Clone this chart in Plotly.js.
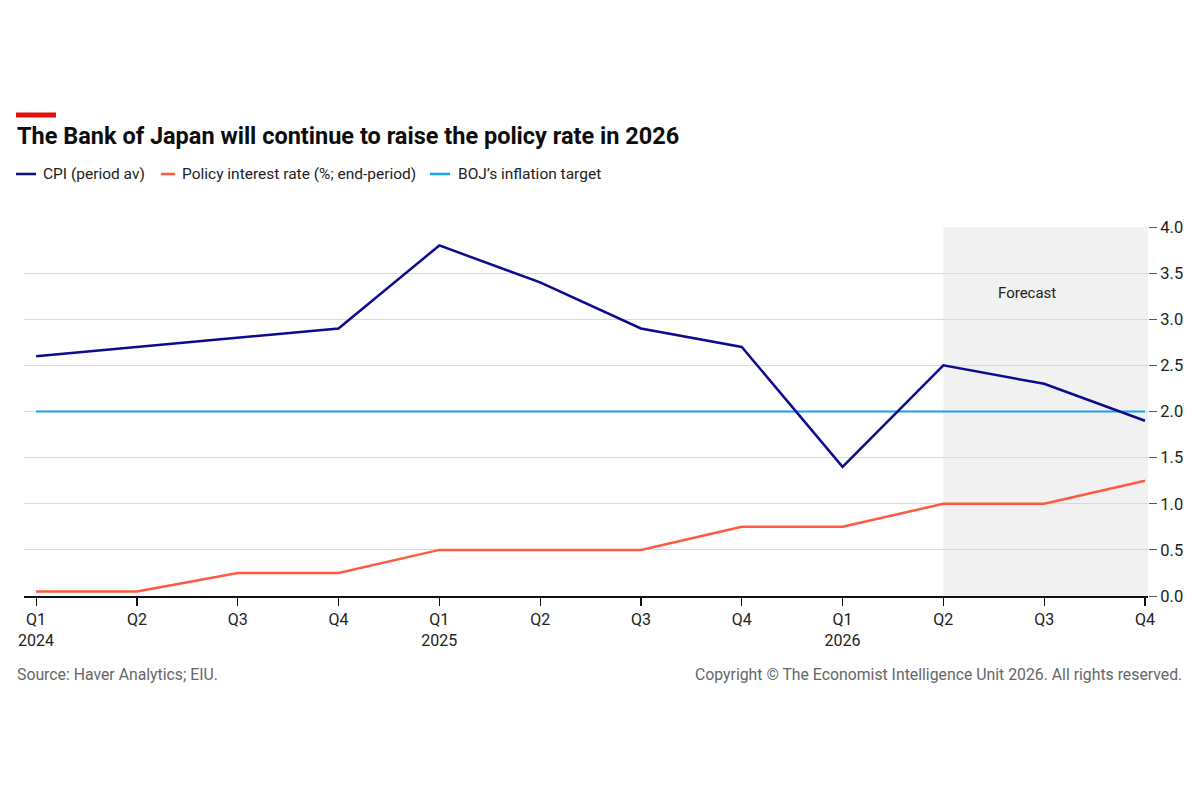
<!DOCTYPE html>
<html>
<head>
<meta charset="utf-8">
<script src="https://cdn.plot.ly/plotly-3.0.1.min.js"></script>
<style>
html,body{margin:0;padding:0;background:#fff;}
#chart{width:1200px;height:800px;}
</style>
</head>
<body>
<div id="chart"></div>
<script>
// Data
const quarters = ["Q1<br>2024","Q2","Q3","Q4","Q1<br>2025","Q2","Q3","Q4","Q1<br>2026","Q2","Q3","Q4"];
const cpi = [2.6, 2.7, 2.8, 2.9, 3.8, 3.4, 2.9, 2.7, 1.4, 2.5, 2.3, 1.9];
const policyRate = [0.05, 0.05, 0.25, 0.25, 0.5, 0.5, 0.5, 0.75, 0.75, 1.0, 1.0, 1.25];
const inflationTarget = [2, 2, 2, 2, 2, 2, 2, 2, 2, 2, 2, 2];
const seriesNames = ["CPI (period av)", "Policy interest rate (%; end-period)", "BOJ\u2019s inflation target"];
const yTicks = [0, 0.5, 1, 1.5, 2, 2.5, 3, 3.5, 4];
const forecastStart = 9;  // index of first forecast quarter
const forecastEnd = 11;

const xIdx = quarters.map((_, i) => i);
const colors = {cpi: "#0c0a8f", rate: "#ff5a3f", target: "#1a9ff0"};
const FONT = "Roboto, 'Liberation Sans', sans-serif";

const traces = [
  {x: xIdx, y: inflationTarget, type: "scatter", mode: "lines", name: seriesNames[2],
   line: {color: colors.target, width: 2.2}, showlegend: false, hoverinfo: "skip"},
  {x: xIdx, y: policyRate, type: "scatter", mode: "lines", name: seriesNames[1],
   line: {color: colors.rate, width: 2.5}, showlegend: false},
  {x: xIdx, y: cpi, type: "scatter", mode: "lines", name: seriesNames[0],
   line: {color: colors.cpi, width: 2.5}, showlegend: false}
];

// Manual legend (positions in pixels converted to paper coords)
const W = 1200, H = 800;
const mL = 24, mR = 52, mT = 227, mB = 204;
const pw = W - mL - mR, ph = H - mT - mB;
const px = x => (x - mL) / pw;
const py = y => (H - mB - y) / ph;

const legendItems = [
  {x0: 16, x1: 36, tx: 41, color: colors.cpi, text: seriesNames[0]},
  {x0: 161, x1: 175, tx: 180, color: colors.rate, text: seriesNames[1]},
  {x0: 430, x1: 450, tx: 456, color: colors.target, text: seriesNames[2]}
];

const shapes = [
  {type: "rect", xref: "x", yref: "y", x0: forecastStart, x1: forecastEnd + 0.03, y0: 0, y1: 4,
   fillcolor: "#f1f1f1", line: {width: 0}, layer: "below"},
  {type: "rect", xref: "paper", yref: "paper", x0: px(16), x1: px(56), y0: py(117.5), y1: py(112.5),
   fillcolor: "#e3120b", line: {width: 0}}
];
const annotations = [
  {xref: "paper", yref: "paper", x: px(15), y: py(136), xanchor: "left", yanchor: "middle",
   text: "<b>The Bank of Japan will continue to raise the policy rate in 2026</b>",
   showarrow: false, font: {family: FONT, size: 23.5, color: "#0d0d0d"}},
  {xref: "x", yref: "y", x: 9.83, y: 3.29, text: "Forecast",
   showarrow: false, font: {family: FONT, size: 15, color: "#222"}},
  {xref: "paper", yref: "paper", x: px(15), y: py(674), xanchor: "left", yanchor: "middle",
   text: "Source: Haver Analytics; EIU.", showarrow: false, font: {family: FONT, size: 15.8, color: "#666"}},
  {xref: "paper", yref: "paper", x: px(1184), y: py(674), xanchor: "right", yanchor: "middle",
   text: "Copyright \u00a9 The Economist Intelligence Unit 2026. All rights reserved.", showarrow: false,
   font: {family: FONT, size: 15.8, color: "#666"}}
];
legendItems.forEach(it => {
  shapes.push({type: "line", xref: "paper", yref: "paper", x0: px(it.x0), x1: px(it.x1),
    y0: py(174), y1: py(174), line: {color: it.color, width: 2.5}});
  annotations.push({xref: "paper", yref: "paper", x: px(it.tx), y: py(174), xanchor: "left", yanchor: "middle",
    text: it.text, showarrow: false, font: {family: FONT, size: 15.5, color: "#222"}});
});

const layout = {
  width: W, height: H,
  margin: {l: mL, r: mR, t: mT, b: mB, pad: 0},
  paper_bgcolor: "#fff", plot_bgcolor: "rgba(0,0,0,0)",
  font: {family: FONT, size: 16, color: "#222"},
  showlegend: false,
  xaxis: {
    range: [-0.12, 11.03], tickmode: "array", tickvals: xIdx, ticktext: quarters,
    showgrid: false, zeroline: false, showline: true, linecolor: "#111", linewidth: 1.5,
    ticks: "outside", ticklen: 8, tickcolor: "#111", tickwidth: 1.2,
    tickfont: {family: FONT, size: 16, color: "#222"}, fixedrange: true
  },
  yaxis: {
    side: "right", range: [0, 4], tickmode: "array", tickvals: yTicks,
    ticktext: yTicks.map(v => v.toFixed(1)),
    showgrid: true, gridcolor: "#d9d9d9", gridwidth: 1, zeroline: false, showline: false,
    ticks: "outside", ticklen: 8, tickcolor: "#555", tickwidth: 1,
    tickfont: {family: FONT, size: 16.5, color: "#222"}, fixedrange: true
  },
  shapes: shapes,
  annotations: annotations
};

Plotly.newPlot("chart", traces, layout, {displayModeBar: false, staticPlot: true});
</script>
</body>
</html>
